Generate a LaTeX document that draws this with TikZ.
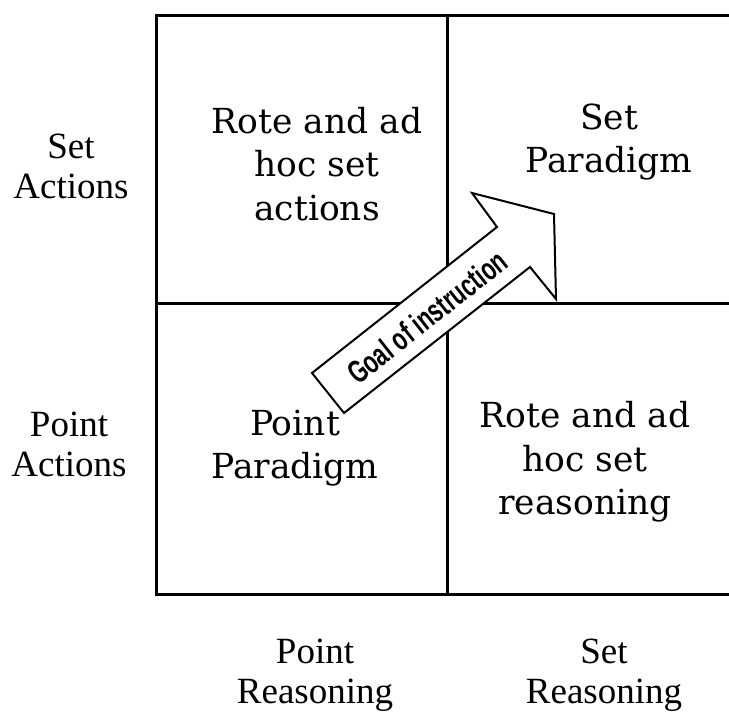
\documentclass[tikz,border=0pt]{standalone}
\usepackage{fontspec}
\newfontfamily\axisfont{Liberation Serif}
\newfontfamily\cellfont{DejaVu Serif}
\newfontfamily\arrowfont[FakeStretch=0.68]{Liberation Sans}
\begin{document}
\begin{tikzpicture}[x=1pt,y=-1pt,
  grid/.style={line width=3pt},
  cell/.style={align=center, font=\cellfont\fontsize{34.5}{43.5}\selectfont, inner sep=0pt},
  axis/.style={align=center, font=\axisfont\fontsize{37}{40}\selectfont, inner sep=0pt},
  goal/.style={draw, line width=2pt, fill=white, line join=miter}]
\useasboundingbox (0,0) rectangle (729,715);
\clip (0,0) rectangle (729,715);

% the four-cell grid (open on the right)
\draw[grid] (740,15) -- (156,15) -- (156,594) -- (740,594);
\draw[grid] (447,15) -- (447,594);
\draw[grid] (156,303) -- (740,303);

% cell texts
\node[cell] (rotesetact) at (317,164) {Rote and ad\\hoc set\\actions};
\node[cell] (setpar)     at (609,142) {Set\\Paradigm};
\node[cell] (pointpar)   at (295,448) {Point\\Paradigm};
\node[cell] (rotesetrea) at (585,462) {Rote and ad\\hoc set\\reasoning};

% axis labels
\node[axis] (setact)   at (71,166)  {Set\\Actions};
\node[axis] (pointact) at (69,444)  {Point\\Actions};
\node[axis] (pointrea) at (315,675) {Point\\Reasoning};
\node[axis] (setrea)   at (604,675) {Set\\Reasoning};

% block arrow
\draw[goal] (312,373) -- (497,227) -- (472,193) -- (554,214) -- (556,299)
  -- (530,267) -- (344,413) -- cycle;
\node[rotate=38.3, inner sep=0pt, font=\arrowfont\bfseries\fontsize{32}{32}\selectfont]
  (goaltext) at (427,317) {Goal of instruction};
\end{tikzpicture}
\end{document}
